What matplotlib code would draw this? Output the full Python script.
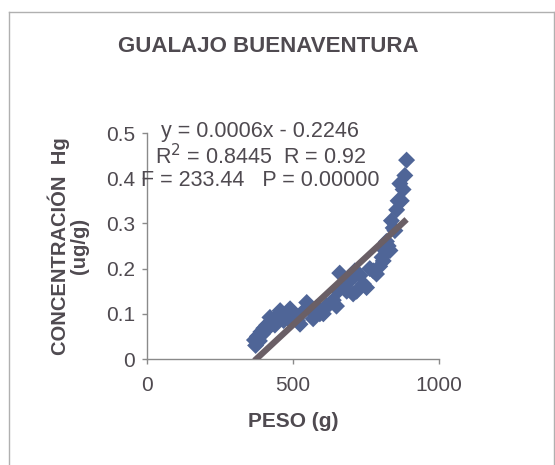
import matplotlib
matplotlib.use("Agg")
import matplotlib.pyplot as plt
from matplotlib.lines import Line2D

# Peso (g) vs concentración de Hg (ug/g)
peso = [368, 372, 378, 385, 390, 395, 400, 405, 410, 415, 421, 426, 432, 438,
        444, 450, 456, 462, 468, 475, 482, 490, 497, 505, 515, 524, 535, 547,
        558, 569, 581, 592, 604, 615, 626, 638, 649, 654, 660, 672, 684, 695,
        706, 712, 718, 730, 741, 752, 763, 775, 786, 797, 805, 809, 815, 820,
        826, 832, 837, 843, 849, 855, 860, 866, 871, 877, 883, 889]
hg = [0.042, 0.030, 0.050, 0.040, 0.060, 0.055, 0.068, 0.062, 0.075, 0.070,
      0.092, 0.080, 0.085, 0.075, 0.095, 0.088, 0.107, 0.092, 0.085, 0.098,
      0.090, 0.111, 0.100, 0.095, 0.085, 0.077, 0.105, 0.125, 0.110, 0.089,
      0.114, 0.100, 0.100, 0.118, 0.122, 0.130, 0.117, 0.150, 0.190, 0.160,
      0.150, 0.173, 0.144, 0.195, 0.150, 0.185, 0.166, 0.158, 0.200, 0.195,
      0.188, 0.205, 0.225, 0.217, 0.240, 0.260, 0.250, 0.240, 0.306, 0.290,
      0.284, 0.330, 0.350, 0.388, 0.350, 0.375, 0.406, 0.440]

# Linear fit as reported
slope = 0.0006
intercept = -0.2246
r2_text = "0.8445"
r_text = "0.92"
f_text = "233.44"
p_text = "0.00000"

x_ticks = [0, 500, 1000]
y_ticks = [0, 0.1, 0.2, 0.3, 0.4, 0.5]
y_tick_labels = ["0", "0.1", "0.2", "0.3", "0.4", "0.5"]

text_col = "#4f4a50"
marker_col = "#4f6597"
line_col = "#6a5f66"
spine_col = "#8a8a8a"

plt.rcParams["font.family"] = ["Liberation Sans", "DejaVu Sans"]

W, H = 555, 465
fig = plt.figure(figsize=(W / 100, H / 100), dpi=100)

# Outer chart frame
for xs, ys in [((9, 555), (12, 12)), ((9, 9), (12, 465)), ((554, 554), (12, 465))]:
    fig.add_artist(Line2D([x / W for x in xs], [1 - y / H for y in ys],
                          color="#b0b0b0", lw=1.0, transform=fig.transFigure))

ax = fig.add_axes([147 / W, 1 - 359 / H, (439 - 147) / W, (359 - 133) / H])

ax.scatter(peso, hg, marker="D", s=75, color=marker_col, edgecolors="none",
           zorder=3, clip_on=False)

x0, x1 = min(peso), max(peso)
ax.plot([x0, x1], [slope * x0 + intercept, slope * x1 + intercept],
        color=line_col, lw=4.5, solid_capstyle="butt", zorder=4)

ax.set_xlim(0, 1000)
ax.set_ylim(0, 0.5)
ax.set_xticks(x_ticks)
ax.set_yticks(y_ticks)
ax.set_yticklabels(y_tick_labels)
ax.tick_params(axis="both", labelsize=15, labelcolor=text_col, color=spine_col,
               length=3.5, width=1, direction="out")
ax.tick_params(axis="x", pad=9)
ax.tick_params(axis="y", pad=5)
for side in ("top", "right"):
    ax.spines[side].set_visible(False)
for side in ("left", "bottom"):
    ax.spines[side].set_color(spine_col)
    ax.spines[side].set_linewidth(1)

fig.text(268 / W, 1 - 47 / H, "GUALAJO BUENAVENTURA", ha="center", va="center",
         fontsize=16, fontweight="bold", color=text_col)

ax.set_xlabel("PESO (g)", fontsize=15, fontweight="bold", color=text_col,
              labelpad=12)
ax.set_ylabel("CONCENTRACIÓN  Hg\n(ug/g)", fontsize=14.5, fontweight="bold",
              color=text_col, labelpad=12, linespacing=1.05)

eq = (f"y = {slope:.4f}x - {abs(intercept):.4f}\n"
      f"R$^2$ = {r2_text}  R = {r_text}\n"
      f"F = {f_text}   P = {p_text}")
fig.text(260 / W, 1 - 156 / H, eq, ha="center", va="center", fontsize=15.5,
         color=text_col, linespacing=1.1)

fig.savefig("out.png", dpi=100, facecolor="white")
